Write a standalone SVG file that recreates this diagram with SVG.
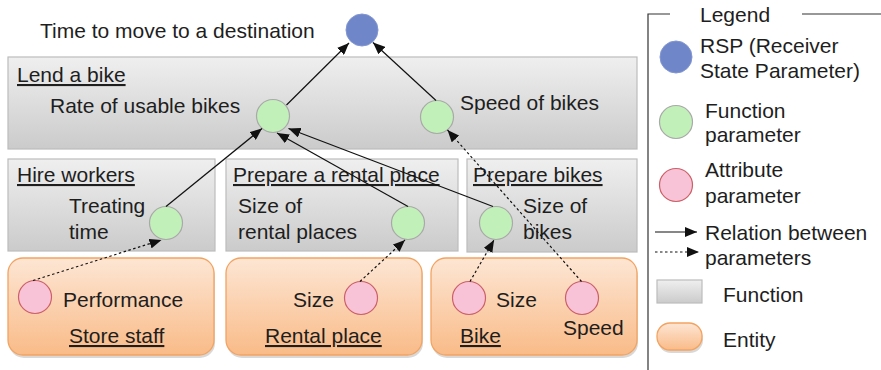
<svg xmlns="http://www.w3.org/2000/svg" width="881" height="370" viewBox="0 0 881 370">
  <defs>
    <linearGradient id="gradFunction" x1="0" y1="0" x2="0" y2="1">
      <stop offset="0" stop-color="#efefef"/>
      <stop offset="1" stop-color="#cbcbcb"/>
    </linearGradient>
    <linearGradient id="gradEntity" x1="0" y1="0" x2="0" y2="1">
      <stop offset="0" stop-color="#fde6d4"/>
      <stop offset="1" stop-color="#f9bb88"/>
    </linearGradient>
    <marker id="arrow" viewBox="0 0 12 10" refX="12" refY="5" markerWidth="12" markerHeight="10" markerUnits="userSpaceOnUse" orient="auto">
      <path d="M0,0 L12,5 L0,10 z" fill="#111"/>
    </marker>
    <style>
      text { font-family: "Liberation Sans", Arial, sans-serif; font-size: 21px; fill: #1e1e1e; }
      .title { text-decoration: underline; }
      .func { fill: url(#gradFunction); stroke: #bcbcbc; stroke-width: 1.2; }
      .ent { fill: url(#gradEntity); stroke: #f3a360; stroke-width: 1.3; }
      .shadow { fill: #a8a8a8; opacity: 0.45; }
      .rsp { fill: #6f86c8; stroke: #8296d2; stroke-width: 1; }
      .fp { fill: #c1f0b9; stroke: #a9a9a9; stroke-width: 1.2; }
      .ap { fill: #f8c3d6; stroke: #cc6068; stroke-width: 1.2; }
      .rel { stroke: #111; stroke-width: 1.2; fill: none; marker-end: url(#arrow); }
      .dot { stroke-dasharray: 2.5 2.5; }
      .frame { stroke: #333; stroke-width: 1.2; fill: none; }
    </style>
  </defs>

  <!-- Receiver state parameter -->
  <g id="rsp">
    <circle class="rsp" cx="362" cy="30" r="16"/>
    <text x="40" y="38">Time to move to a destination</text>
  </g>

  <!-- Functions -->
  <g id="lend-a-bike">
    <rect class="func" x="8" y="57" width="629" height="92"/>
    <text class="title" x="17" y="82">Lend a bike</text>
    <text x="50" y="113">Rate of usable bikes</text>
    <circle class="fp" cx="273" cy="116" r="16.5"/>
    <text x="460" y="110">Speed of bikes</text>
    <circle class="fp" cx="437" cy="117" r="16.5"/>
  </g>

  <g id="hire-workers">
    <rect class="func" x="8" y="159" width="207" height="92"/>
    <text class="title" x="17" y="182">Hire workers</text>
    <text x="69" y="213">Treating</text>
    <text x="69" y="239">time</text>
    <circle class="fp" cx="166" cy="223" r="16.5"/>
  </g>

  <g id="prepare-rental-place">
    <rect class="func" x="226" y="159" width="232" height="92"/>
    <text class="title" x="233" y="182">Prepare a rental place</text>
    <text x="238" y="213">Size of</text>
    <text x="238" y="239">rental places</text>
    <circle class="fp" cx="408" cy="223" r="16.5"/>
  </g>

  <g id="prepare-bikes">
    <rect class="func" x="467" y="159" width="170" height="93"/>
    <text class="title" x="473" y="182">Prepare bikes</text>
    <text x="523" y="213">Size of</text>
    <text x="523" y="239">bikes</text>
    <circle class="fp" cx="496" cy="223" r="16.5"/>
  </g>

  <!-- Entities -->
  <g id="store-staff">
    <rect class="shadow" x="9" y="261" width="206" height="97" rx="15"/>
    <rect class="ent" x="8" y="258" width="206" height="97" rx="15"/>
    <circle class="ap" cx="35" cy="297" r="16.5"/>
    <text x="63" y="307">Performance</text>
    <text class="title" x="69" y="343">Store staff</text>
  </g>

  <g id="rental-place">
    <rect class="shadow" x="227" y="261" width="196" height="97" rx="15"/>
    <rect class="ent" x="226" y="258" width="196" height="97" rx="15"/>
    <text x="293" y="307">Size</text>
    <circle class="ap" cx="361" cy="298" r="16.5"/>
    <text class="title" x="265" y="343">Rental place</text>
  </g>

  <g id="bike">
    <rect class="shadow" x="432" y="261" width="206" height="97" rx="15"/>
    <rect class="ent" x="431" y="258" width="206" height="97" rx="15"/>
    <circle class="ap" cx="469" cy="298" r="16.5"/>
    <text x="496" y="307">Size</text>
    <circle class="ap" cx="582" cy="298" r="16.5"/>
    <text x="563" y="335">Speed</text>
    <text class="title" x="460" y="343">Bike</text>
  </g>

  <!-- Relations between parameters -->
  <g id="connectors">
    <line class="rel" x1="286.5" y1="105" x2="349" y2="43"/>
    <line class="rel" x1="436" y1="100.5" x2="373" y2="42.5"/>
    <line class="rel" x1="166" y1="206.5" x2="262" y2="128.5"/>
    <line class="rel" x1="408" y1="206.5" x2="277" y2="133"/>
    <line class="rel" x1="493" y1="206.5" x2="288.5" y2="128.5"/>
    <line class="rel dot" x1="33" y1="280.5" x2="161.5" y2="240"/>
    <line class="rel dot" x1="360" y1="281.5" x2="405" y2="240"/>
    <line class="rel dot" x1="470" y1="281.5" x2="494" y2="240"/>
    <line class="rel dot" x1="581.5" y1="281.5" x2="447.5" y2="130"/>
  </g>

  <!-- Legend -->
  <g id="legend">
    <polyline class="frame" points="670,14 648,14 648,370"/>
    <line class="frame" x1="802" y1="14" x2="881" y2="14"/>
    <text x="700" y="22">Legend</text>
    <circle class="rsp" cx="676" cy="57" r="16"/>
    <text x="700" y="53">RSP (Receiver</text>
    <text x="700" y="78">State Parameter)</text>
    <circle class="fp" cx="676" cy="122" r="16.5"/>
    <text x="705" y="118">Function</text>
    <text x="705" y="142">parameter</text>
    <circle class="ap" cx="676" cy="185" r="16.5"/>
    <text x="705" y="177">Attribute</text>
    <text x="705" y="203">parameter</text>
    <line class="rel" x1="655" y1="232" x2="697" y2="232"/>
    <line class="rel dot" x1="655" y1="252" x2="699" y2="252"/>
    <text x="705" y="240">Relation between</text>
    <text x="705" y="265">parameters</text>
    <rect class="func" x="657" y="280" width="45" height="23"/>
    <text x="723" y="302">Function</text>
    <rect class="shadow" x="658" y="326" width="45" height="27" rx="13"/>
    <rect class="ent" x="657" y="323" width="45" height="27" rx="13"/>
    <text x="723" y="347">Entity</text>
  </g>
</svg>
